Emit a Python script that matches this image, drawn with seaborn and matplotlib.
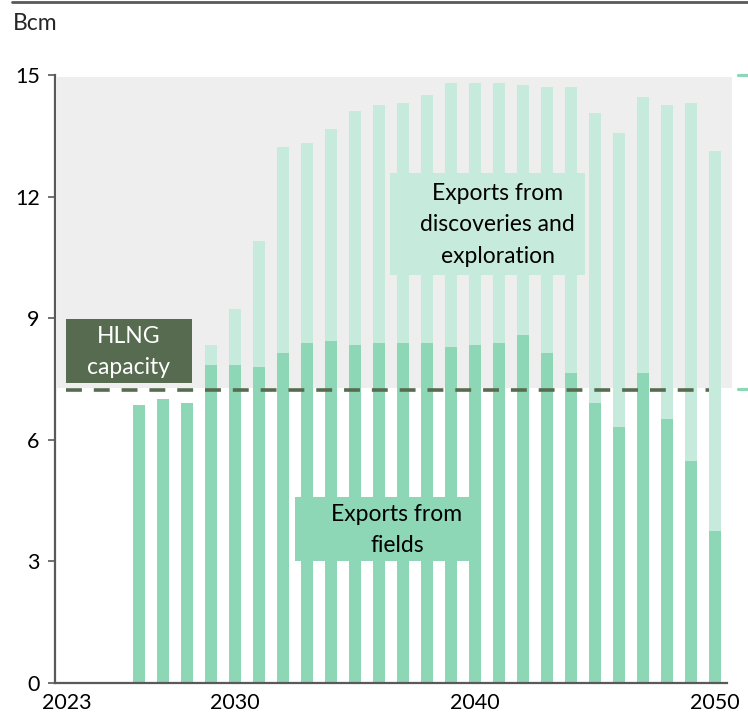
"""
Gas export outlook: exports from producing fields vs. exports from
discoveries and exploration, against HLNG liquefaction capacity.

Output: out.png
"""

import matplotlib.pyplot as plt
import matplotlib.transforms as mtransforms
import pandas as pd
import seaborn as sns
from matplotlib.lines import Line2D
from matplotlib.patches import Rectangle

# --- data (Bcm) -------------------------------------------------------------
years = list(range(2026, 2051))
fields = [6.86, 7.01, 6.91, 7.85, 7.85, 7.80, 8.14, 8.39, 8.44, 8.34,
          8.39, 8.39, 8.39, 8.29, 8.34, 8.39, 8.59, 8.14, 7.65, 6.91,
          6.32, 7.65, 6.51, 5.48, 3.75]
discoveries = [0.00, 0.00, 0.00, 0.49, 1.38, 3.10, 5.08, 4.93, 5.23, 5.77,
               5.87, 5.92, 6.12, 6.51, 6.46, 6.41, 6.16, 6.56, 7.05, 7.15,
               7.25, 6.81, 7.75, 8.83, 9.38]
hlng_capacity = 7.22
xtick_years = [2023, 2030, 2040, 2050]
yticks = [0, 3, 6, 9, 12, 15]

FIELDS_COLOR = "#8dd7b7"
DISC_COLOR = "#c6eadb"
HLNG_COLOR = "#566b4f"
SHADE_COLOR = "#eeeeee"
AXIS_COLOR = "#595959"
LABEL_SIZE = 16.5
LINE_SPACING = 1.62

sns.set_theme(style="white")
plt.rcParams["font.family"] = ["Lato", "DejaVu Sans"]


def build_frame():
    df = pd.DataFrame({"year": years, "fields": fields, "discoveries": discoveries})
    df["total"] = df["fields"] + df["discoveries"]
    return df


def draw(df):
    fig = plt.figure(figsize=(7.48, 7.18), dpi=100)
    ax = fig.add_axes([55 / 748, 35 / 718, 672 / 748, 608 / 718])

    # grey band above the HLNG capacity
    band = mtransforms.blended_transform_factory(ax.transAxes, ax.transData)
    ax.add_patch(Rectangle((0.003, 7.27), 1.004, 14.95 - 7.27, transform=band,
                           facecolor=SHADE_COLOR, edgecolor="none", zorder=0,
                           clip_on=False))

    # stacked bars: total first (light), fields on top (darker)
    sns.barplot(data=df, x="year", y="total", native_scale=True, width=0.52,
                color=DISC_COLOR, saturation=1, edgecolor="none", ax=ax, zorder=2)
    sns.barplot(data=df, x="year", y="fields", native_scale=True, width=0.52,
                color=FIELDS_COLOR, saturation=1, edgecolor="none", ax=ax, zorder=2)

    # HLNG capacity line
    ax.hlines(hlng_capacity, 2022.96, 2049.75, colors=HLNG_COLOR, linewidth=2.6,
              linestyles=(0, (4.4, 3.3)), zorder=3)

    # little marks to the right of the plot
    for yv in (15.0, 7.25):
        ax.add_line(Line2D([1.016, 1.031], [yv, yv], transform=band,
                           color=FIELDS_COLOR, linewidth=2.3, clip_on=False))

    # labels in boxes
    ax.add_patch(Rectangle((2022.96, 7.40), 5.25, 1.58, facecolor=HLNG_COLOR,
                           edgecolor="none", zorder=4))
    ax.text(2025.58, 8.17, "HLNG\ncapacity", ha="center", va="center", color="white",
            fontsize=LABEL_SIZE, linespacing=LINE_SPACING, zorder=5)

    ax.add_patch(Rectangle((2036.45, 10.07), 8.15, 2.52, facecolor=DISC_COLOR,
                           edgecolor="none", zorder=4))
    ax.text(2040.95, 11.31, "Exports from\ndiscoveries and\nexploration", ha="center",
            va="center", color="black", fontsize=LABEL_SIZE, linespacing=LINE_SPACING,
            zorder=5)

    ax.add_patch(Rectangle((2032.5, 3.0), 7.6, 1.58, facecolor=FIELDS_COLOR,
                           edgecolor="none", zorder=4))
    ax.text(2036.75, 3.77, "Exports from\nfields", ha="center", va="center",
            color="black", fontsize=LABEL_SIZE, linespacing=LINE_SPACING, zorder=5)

    # axes styling
    ax.set_xlim(2022.5, 2050.5)
    ax.set_ylim(0, 15)
    ax.set_xticks(xtick_years)
    ax.set_xticklabels([str(y) for y in xtick_years])
    ax.set_yticks(yticks)
    ax.set_xlabel("")
    ax.set_ylabel("")
    for side in ("top", "right"):
        ax.spines[side].set_visible(False)
    for side in ("left", "bottom"):
        ax.spines[side].set_color(AXIS_COLOR)
        ax.spines[side].set_linewidth(1.6)
    ax.tick_params(axis="y", length=5, width=1.2, color=AXIS_COLOR, pad=6,
                   labelsize=15.5, labelcolor="black", left=True)
    ax.tick_params(axis="x", length=0, pad=7, labelsize=15.5, labelcolor="black")
    ax.set_facecolor("none")

    fig.text(13 / 748, 1 - 23 / 718, "Bcm", ha="left", va="center", fontsize=16.5)
    fig.add_artist(Line2D([12 / 748, 1.0], [1 - 2 / 718, 1 - 2 / 718],
                          transform=fig.transFigure, color=AXIS_COLOR, linewidth=2))

    fig.savefig("out.png", dpi=100)
    plt.close(fig)


def main():
    df = build_frame()
    draw(df)


if __name__ == "__main__":
    main()
